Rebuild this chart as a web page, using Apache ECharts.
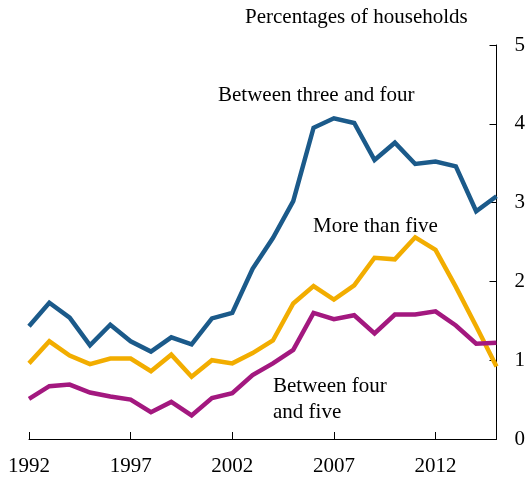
<!DOCTYPE html>
<html><head><meta charset="utf-8">
<script src="https://cdn.jsdelivr.net/npm/echarts@6/dist/echarts.min.js"></script>
<style>html,body{margin:0;padding:0;background:#fff}#c{width:528px;height:477px}</style>
</head><body><div id="c"></div>
<script>
const years = ['1992','1993','1994','1995','1996','1997','1998','1999','2000','2001','2002','2003','2004','2005','2006','2007','2008','2009','2010','2011','2012','2013','2014','2015'];
const threeToFour = [1.43,1.73,1.54,1.19,1.45,1.24,1.11,1.29,1.20,1.53,1.60,2.16,2.55,3.02,3.95,4.07,4.01,3.54,3.76,3.49,3.52,3.46,2.89,3.08];
const moreThanFive = [0.96,1.24,1.06,0.95,1.02,1.02,0.86,1.07,0.79,1.00,0.96,1.09,1.25,1.72,1.94,1.77,1.95,2.30,2.28,2.56,2.40,1.93,1.43,0.92];
const fourToFive = [0.51,0.67,0.69,0.59,0.54,0.50,0.34,0.47,0.30,0.52,0.58,0.81,0.96,1.13,1.60,1.52,1.57,1.34,1.58,1.58,1.62,1.44,1.21,1.22];
const yTicks = [0,1,2,3,4,5];

const font = 'Liberation Serif';
const chart = echarts.init(document.getElementById('c'));
function mk(name, data, color){
  return {name, type:'line', data, symbol:'none', smooth:false,
    lineStyle:{width:4.5, color, join:'miter'}, itemStyle:{color}};
}
chart.setOption({
  animation:false,
  grid:{left:29, right:30, top:45, bottom:36},
  xAxis:{type:'category', data:years, boundaryGap:false,
    axisLine:{lineStyle:{color:'#000', width:1}},
    axisTick:{inside:true, length:7, interval:(i)=>i%5===0, lineStyle:{color:'#000'}},
    axisLabel:{interval:(i)=>i%5===0, color:'#000', fontFamily:font, fontSize:21, margin:17},
    splitLine:{show:false}},
  yAxis:{type:'value', position:'right', min:0, max:5, interval:1,
    axisLine:{show:true, lineStyle:{color:'#000', width:1}},
    axisTick:{show:true, inside:true, length:7, lineStyle:{color:'#000'}},
    axisLabel:{color:'#000', fontFamily:font, fontSize:21, margin:18, formatter:(v)=>yTicks.includes(v)?String(v):''},
    splitLine:{show:false}},
  graphic:[
    {type:'text', left:245, top:7, style:{text:'Percentages of households', font:'21px "Liberation Serif"', fill:'#000'}},
    {type:'text', left:218, top:85, style:{text:'Between three and four', font:'21px "Liberation Serif"', fill:'#000'}},
    {type:'text', left:313, top:216, style:{text:'More than five', font:'21px "Liberation Serif"', fill:'#000'}},
    {type:'text', left:273, top:373, style:{text:'Between four\nand five', font:'21px "Liberation Serif"', lineHeight:26, fill:'#000'}}
  ],
  series:[
    mk('Between three and four', threeToFour, '#1b5a8a'),
    mk('More than five', moreThanFive, '#f2ad00'),
    mk('Between four and five', fourToFive, '#a3187f')
  ]
});
</script></body></html>
